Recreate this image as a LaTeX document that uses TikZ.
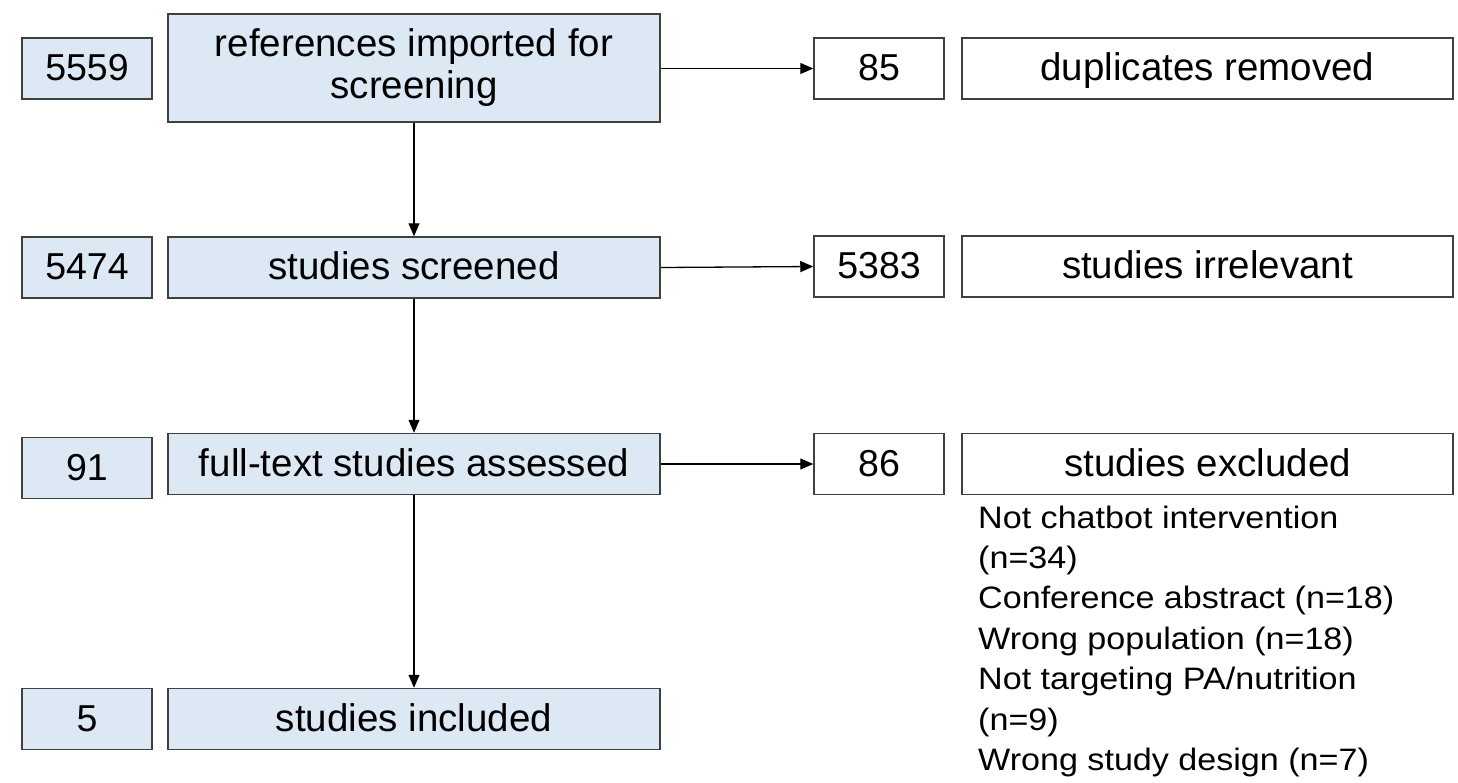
\documentclass[tikz,border=0pt]{standalone}
\usepackage{fontspec}
\setmainfont{Liberation Sans}
\newfontfamily\reasonfont[FakeStretch=1.1]{Liberation Sans}
\usetikzlibrary{arrows.meta}
\definecolor{lblue}{RGB}{221,232,245}
\definecolor{edge}{RGB}{64,64,64}
\begin{document}
\begin{tikzpicture}[x=1pt,y=-1pt,
  bx/.style={draw=edge, line width=1.5pt, inner sep=0pt, align=center,
    font=\fontsize{38.5}{42}\selectfont},
  one/.style={text height=24pt, text depth=0pt},
  num/.style={font=\fontsize{37.5}{42}\selectfont},
  blue/.style={bx, fill=lblue},
  nbox/.style={minimum width=130pt, minimum height=61pt, num, one},
  mbox/.style={minimum width=492pt, minimum height=61pt},
  tbox/.style={minimum width=491pt, minimum height=61pt, one},
  arr/.style={draw=black, line width=1.3pt, -{Triangle[length=13pt,width=11pt]}},
  reason/.style={anchor=base west, inner sep=0pt, font=\reasonfont\fontsize{31}{40}\selectfont}
]
\path[use as bounding box, fill=white] (0,0) rectangle (1458,782);

% left number boxes
\node[blue, nbox] (n1) at (87,68.5) {5559};
\node[blue, nbox] (n2) at (87,267.5) {5474};
\node[blue, nbox] (n3) at (87,468) {91};
\node[blue, nbox] (n4) at (87,719) {5};

% main boxes
\node[blue, mbox, minimum height=108pt] (m1) at (414,68) {references imported for\\screening};
\node[blue, mbox, one] (m2) at (414,267.5) {studies screened};
\node[blue, mbox, one] (m3) at (414,464) {full-text studies assessed};
\node[blue, mbox, one] (m4) at (414,719) {studies included};

% right number boxes
\node[bx, nbox] (r1) at (879,68.5) {85};
\node[bx, nbox] (r2) at (879,266.5) {5383};
\node[bx, nbox] (r3) at (879,464) {86};

% right text boxes
\node[bx, tbox] (t1) at (1207.5,68.5) {duplicates removed};
\node[bx, tbox] (t2) at (1207.5,266.5) {studies irrelevant};
\node[bx, tbox] (t3) at (1207.5,464) {studies excluded};

% exclusion reasons
\node[reason] (e1) at (978,528) {Not chatbot intervention};
\node[reason] (e2) at (978,568) {(n=34)};
\node[reason] (e3) at (978,608) {Conference abstract (n=18)};
\node[reason] (e4) at (978,649) {Wrong population (n=18)};
\node[reason] (e5) at (978,689) {Not targeting PA/nutrition};
\node[reason] (e6) at (978,730) {(n=9)};
\node[reason] (e7) at (978,770) {Wrong study design (n=7)};

% connectors
\draw[arr] (r1.west -| m1.east) -- (r1.west);
\draw[arr] (m2.east) -- (r2.west);
\draw[arr] (r3.west -| m3.east) -- (r3.west);
\draw[arr] (m1.south) -- (m2.north);
\draw[arr] (m2.south) -- (m3.north);
\draw[arr] (m3.south) -- (m4.north);
\end{tikzpicture}
\end{document}
